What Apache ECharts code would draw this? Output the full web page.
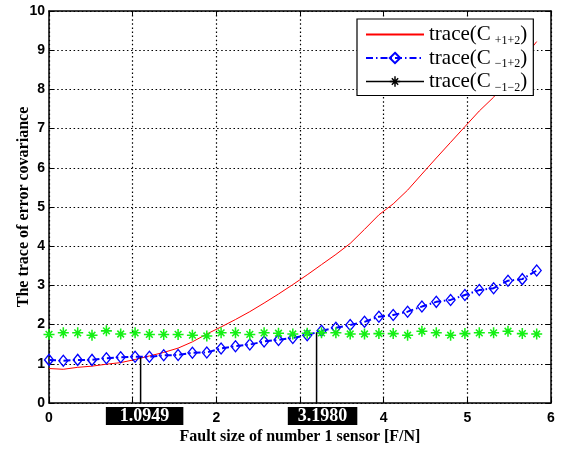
<!DOCTYPE html>
<html>
<head>
<meta charset="utf-8">
<script src="https://cdn.jsdelivr.net/npm/echarts@6/dist/echarts.min.js"></script>
<style>html,body{margin:0;padding:0;background:#fff}#c{width:564px;height:449px}</style>
</head>
<body>
<div id="c"></div>
<script>
var faultSize = [0, 0.171, 0.343, 0.514, 0.686, 0.857, 1.029, 1.2, 1.371, 1.543, 1.714, 1.886, 2.057, 2.229, 2.4, 2.571, 2.743, 2.914, 3.086, 3.257, 3.429, 3.6, 3.771, 3.943, 4.114, 4.286, 4.457, 4.629, 4.8, 4.971, 5.143, 5.314, 5.486, 5.657, 5.829];
var tracePP = [0.88, 0.86, 0.91, 0.94, 0.99, 1.03, 1.11, 1.20, 1.29, 1.40, 1.56, 1.76, 1.94, 2.13, 2.33, 2.55, 2.78, 3.02, 3.27, 3.53, 3.79, 4.07, 4.43, 4.80, 5.08, 5.43, 5.84, 6.25, 6.65, 7.05, 7.45, 7.80, 8.27, 8.75, 9.22];
var traceMP = [1.10, 1.08, 1.10, 1.10, 1.14, 1.165, 1.18, 1.18, 1.216, 1.224, 1.28, 1.29, 1.39, 1.45, 1.49, 1.57, 1.61, 1.66, 1.73, 1.845, 1.92, 1.99, 2.07, 2.20, 2.245, 2.33, 2.46, 2.58, 2.63, 2.755, 2.88, 2.93, 3.12, 3.16, 3.38];
var traceMM = [1.75, 1.79, 1.79, 1.73, 1.84, 1.76, 1.79, 1.75, 1.75, 1.75, 1.73, 1.71, 1.79, 1.79, 1.75, 1.79, 1.78, 1.76, 1.78, 1.79, 1.79, 1.76, 1.76, 1.77, 1.77, 1.73, 1.83, 1.79, 1.73, 1.77, 1.79, 1.79, 1.83, 1.77, 1.76];
var seriesNames = ['trace(C+1+2)', 'trace(C\u22121+2)', 'trace(C\u22121\u22122)'];
var seriesSubs = ['+1+2', '\u22121+2', '\u22121\u22122'];
var crossX = [1.0949, 3.1980];
var crossY = [1.17, 1.80];
var crossLabels = ['1.0949', '3.1980'];
var xTicks = [0, 1, 2, 3, 4, 5, 6];
var yTicks = [0, 1, 2, 3, 4, 5, 6, 7, 8, 9, 10];

function pairs(xs, ys) { return xs.map(function (x, i) { return [x, ys[i]]; }); }

var asterisk = 'path://M0,8.6L20,8.6L20,11.4L0,11.4Z M8.6,0L11.4,0L11.4,20L8.6,20Z M2.9,4.9L4.9,2.9L17.1,15.1L15.1,17.1Z M15.1,2.9L17.1,4.9L4.9,17.1L2.9,15.1Z';
var boxPads = [14, 10];
var boxOffsets = [4, 6];

var chart = echarts.init(document.getElementById('c'), null, {renderer: 'canvas'});

var axisLabelStyle = {fontFamily: 'Liberation Sans', fontWeight: 'bold', fontSize: 14, color: '#000'};
var splitStyle = {show: true, lineStyle: {color: '#000', width: 1.2, type: [1.5, 2.6]}};

var series = [
  {name: seriesNames[0], type: 'line', data: pairs(faultSize, tracePP), showSymbol: false, symbol: 'none',
   lineStyle: {color: '#ff0000', width: 1}, itemStyle: {color: '#ff0000'}, z: 3},
  {name: seriesNames[1], type: 'line', data: pairs(faultSize, traceMP), symbol: 'diamond', symbolSize: [9, 11],
   lineStyle: {color: '#0000ff', width: 2, type: [7, 3, 1.5, 3]},
   itemStyle: {color: 'rgba(0,0,0,0)', borderColor: '#0000ff', borderWidth: 1.3}, z: 4},
  {name: seriesNames[2], type: 'line', data: pairs(faultSize, traceMM), symbol: asterisk, symbolSize: 11,
   lineStyle: {width: 0, opacity: 0}, itemStyle: {color: '#14f014'}, z: 4}
];
crossX.forEach(function (cx, i) {
  series.push({type: 'line', data: [[cx, 0], [cx, crossY[i]]], showSymbol: false, symbol: 'none', silent: true,
    lineStyle: {color: '#000', width: 1.5}, z: 5});
});
series.push({type: 'scatter', silent: true, clip: false, symbolSize: 0, z: 10,
  itemStyle: {opacity: 1},
  data: crossX.map(function (cx, i) {
    return {value: [cx, 0], name: crossLabels[i],
      label: {padding: [0, boxPads[i], 0, boxPads[i]], offset: [boxOffsets[i], 0]}};
  }),
  label: {show: true, position: 'bottom', distance: 4, formatter: '{b}', opacity: 1,
    backgroundColor: '#000', color: '#fff', fontFamily: 'Liberation Serif', fontWeight: 'bold', fontSize: 18,
    lineHeight: 18, height: 18}});

chart.setOption({
  animation: false,
  backgroundColor: '#fff',
  grid: {left: 49, right: 13, top: 11, bottom: 46, containLabel: false, outerBoundsMode: 'none'},
  legend: {
    orient: 'vertical', left: 357, top: 19, width: 177, height: 79,
    backgroundColor: '#fff', borderColor: '#000', borderWidth: 1.2,
    padding: [5, 6, 2, 8], itemGap: 1, itemWidth: 58, itemHeight: 13,
    data: [
      {name: seriesNames[0], itemStyle: {color: 'rgba(0,0,0,0)', borderWidth: 0, opacity: 0}},
      {name: seriesNames[1]},
      {name: seriesNames[2], itemStyle: {color: '#000'}, lineStyle: {color: '#000', width: 1.5, opacity: 1}}
    ],
    formatter: function (name) { var i = seriesNames.indexOf(name); return 'trace(C{s|' + seriesSubs[i] + '})'; },
    textStyle: {fontFamily: 'Liberation Serif', fontSize: 21, color: '#000',
      rich: {s: {fontFamily: 'Liberation Serif', fontSize: 12, color: '#000', padding: [12, 0, 0, 4]}}}
  },
  xAxis: [
    {type: 'value', min: xTicks[0], max: xTicks[xTicks.length - 1], interval: 1,
     name: 'Fault size of number 1 sensor [F/N]', nameLocation: 'middle', nameGap: 26, nameMoveOverlap: false,
     nameTextStyle: {fontFamily: 'Liberation Serif', fontWeight: 'bold', fontSize: 16, color: '#000'},
     axisLine: {show: true, onZero: false, lineStyle: {color: '#000', width: 1.5}},
     axisTick: {show: true, inside: true, length: 5, lineStyle: {color: '#000'}},
     axisLabel: Object.assign({margin: 8}, axisLabelStyle),
     splitLine: splitStyle},
    {type: 'value', position: 'top', min: xTicks[0], max: xTicks[xTicks.length - 1], interval: 1,
     axisLine: {show: true, onZero: false, lineStyle: {color: '#000', width: 1.5}},
     axisTick: {show: true, inside: true, length: 5, lineStyle: {color: '#000'}},
     axisLabel: {show: false}, splitLine: {show: false}}
  ],
  yAxis: [
    {type: 'value', min: yTicks[0], max: yTicks[yTicks.length - 1], interval: 1,
     name: 'The trace of error covariance', nameLocation: 'middle', nameGap: 17, nameMoveOverlap: false,
     nameTextStyle: {fontFamily: 'Liberation Serif', fontWeight: 'bold', fontSize: 16, color: '#000'},
     axisLine: {show: true, onZero: false, lineStyle: {color: '#000', width: 1.5}},
     axisTick: {show: true, inside: true, length: 5, lineStyle: {color: '#000'}},
     axisLabel: Object.assign({margin: 4}, axisLabelStyle),
     splitLine: splitStyle},
    {type: 'value', position: 'right', min: yTicks[0], max: yTicks[yTicks.length - 1], interval: 1,
     axisLine: {show: true, onZero: false, lineStyle: {color: '#000', width: 1.5}},
     axisTick: {show: true, inside: true, length: 5, lineStyle: {color: '#000'}},
     axisLabel: {show: false}, splitLine: {show: false}}
  ],
  series: series
});
</script>
</body>
</html>
